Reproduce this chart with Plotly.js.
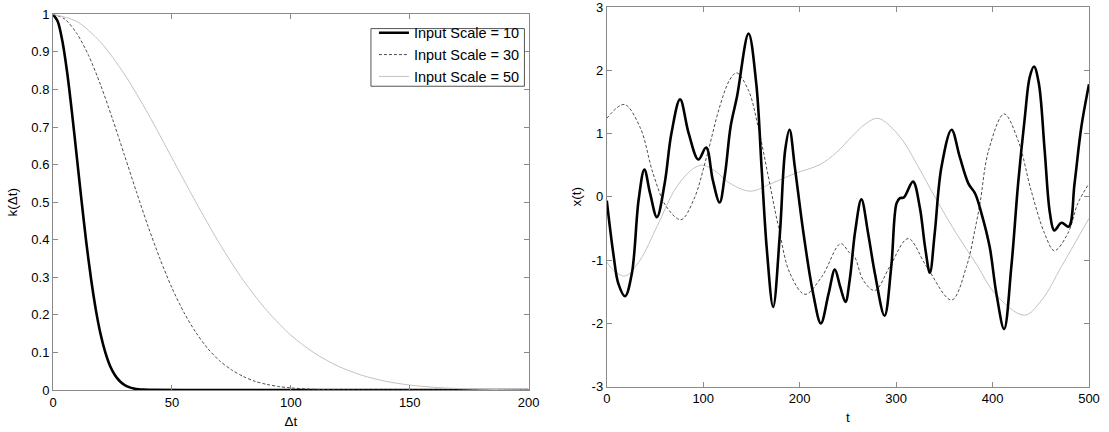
<!DOCTYPE html>
<html><head><meta charset="utf-8">
<script src="https://cdn.plot.ly/plotly-3.0.1.min.js"></script>
<style>html,body{margin:0;padding:0;background:#fff}#chart{width:1109px;height:432px}</style>
</head><body><div id="chart"></div>
<script>
// ---- Left panel: kernel k(Δt) for three input scales ----
const legendNames = ['Input Scale = 10', 'Input Scale = 30', 'Input Scale = 50'];

const lagS10 = [0,2,4,6,8,10,12,14,16,18,20,22,24,26,28,30,32,34,36,38,40,60,200];
const kS10   = [1,0.981,0.927,0.843,0.737,0.621,0.504,0.393,0.296,0.214,0.149,0.100,0.064,0.040,0.024,0.0138,0.0076,0.0041,0.0021,0.0010,0.0005,0,0];

const lagS30 = [0,5,10,15,20,25,30,35,40,45,50,55,60,65,70,75,80,85,90,95,100,110,120,140,200];
const kS30   = [1,0.987,0.949,0.890,0.812,0.722,0.626,0.529,0.435,0.349,0.272,0.207,0.154,0.111,0.078,0.054,0.036,0.023,0.0148,0.0091,0.0055,0.0018,0.0006,0,0];

const lagS50 = [0,10,20,30,40,50,60,70,80,90,100,110,120,130,140,150,160,170,180,190,200];
const kS50   = [1,0.981,0.926,0.841,0.735,0.618,0.501,0.390,0.292,0.211,0.146,0.098,0.063,0.039,0.023,0.0132,0.0073,0.0039,0.0020,0.0010,0.0005];

// ---- Right panel: sample paths x(t) ----
const tS10 = [0,7,12,19,26,33,39,45,52,60,67,76,85,95,103,110,117,122.5,128.5,135,147,155,160.5,166,172.5,179.5,185,189.5,195,204,214,222,230,236.5,242,247.5,252,257.5,264,271,278,288,295,300.5,304,308,317.5,324.5,330,335,340,347,357.5,366,375,382,388.5,397,404,412,419.5,426.5,433.5,438.5,443,448,454,459.5,464,471.5,479,485,492,500];
const xS10 = [-0.06,-0.92,-1.37,-1.57,-1.21,-0.05,0.43,0.05,-0.32,0.21,1.0,1.54,1.0,0.59,0.78,0.26,-0.09,0.35,1.12,1.58,2.58,1.79,0.47,-0.84,-1.74,-0.58,0.74,1.06,0.47,-0.58,-1.53,-2.0,-1.53,-1.15,-1.42,-1.66,-1.3,-0.55,-0.04,-0.58,-1.21,-1.88,-1.1,-0.1,-0.02,-0.01,0.24,-0.16,-0.79,-1.2,-0.58,0.47,1.06,0.63,0.21,0.05,-0.26,-0.79,-1.53,-2.09,-1.1,0.21,1.26,1.89,2.06,1.79,0.74,-0.26,-0.53,-0.41,-0.47,0.21,1.1,1.78];

const tS30 = [0,18,34.5,48,62,77,90,103.5,117,127.5,134.5,147,157,167.5,178,190,205.5,223,242.5,252,257,266,278,293.5,312.5,331.5,357.5,373,382,387,396,412,426.5,440,454,464,478,488.5,500];
const xS30 = [1.24,1.46,1.1,0.37,-0.16,-0.36,-0.05,0.63,1.42,1.85,1.96,1.68,1.1,0.32,-0.47,-1.21,-1.54,-1.26,-0.74,-0.89,-0.95,-1.32,-1.48,-1.1,-0.66,-1.1,-1.63,-1.1,-0.5,-0.1,0.74,1.31,0.89,0.1,-0.58,-0.85,-0.58,-0.1,0.21];

const tS50 = [0,7,19,34.5,52,72.5,90,100,114,125,148.5,169,195,221,238,254,268,281.5,304,321,342,362.5,384,402.5,433,451,471.5,500];
const xS50 = [-1.03,-1.16,-1.25,-1.0,-0.47,0.16,0.45,0.5,0.39,0.24,0.09,0.2,0.37,0.51,0.7,0.95,1.15,1.24,0.95,0.53,-0.05,-0.58,-1.08,-1.53,-1.87,-1.63,-1.1,-0.34];

// ---- Tick labels ----
const leftXTicks = [0,50,100,150,200];
const leftXText = ['0','50','100','150','200'];
const leftYTicks = [0,0.1,0.2,0.3,0.4,0.5,0.6,0.7,0.8,0.9,1];
const leftYText = ['0','0.1','0.2','0.3','0.4','0.5','0.6','0.7','0.8','0.9','1'];
const rightXTicks = [0,100,200,300,400,500];
const rightXText = ['0','100','200','300','400','500'];
const rightYTicks = [-3,-2,-1,0,1,2,3];
const rightYText = ['-3','-2','-1','0','1','2','3'];

const styles = [
  {color:'#000000', width:2.6, dash:'solid'},
  {color:'#3a3a3a', width:0.9, dash:'3px,2px'},
  {color:'#c2c2c2', width:1, dash:'solid'}
];

const traces = [
  {x:lagS10, y:kS10, name:legendNames[0], xaxis:'x', yaxis:'y', line:Object.assign({shape:'spline', smoothing:0.8}, styles[0])},
  {x:lagS30, y:kS30, name:legendNames[1], xaxis:'x', yaxis:'y', line:Object.assign({shape:'spline', smoothing:0.8}, styles[1])},
  {x:lagS50, y:kS50, name:legendNames[2], xaxis:'x', yaxis:'y', line:Object.assign({shape:'spline', smoothing:0.8}, styles[2])},
  {x:tS50, y:xS50, name:legendNames[2], showlegend:false, xaxis:'x2', yaxis:'y2', line:Object.assign({shape:'spline', smoothing:1}, styles[2])},
  {x:tS30, y:xS30, name:legendNames[1], showlegend:false, xaxis:'x2', yaxis:'y2', line:Object.assign({shape:'spline', smoothing:1}, styles[1])},
  {x:tS10, y:xS10, name:legendNames[0], showlegend:false, xaxis:'x2', yaxis:'y2', line:Object.assign({shape:'spline', smoothing:1}, styles[0])}
].map(t => Object.assign({type:'scatter', mode:'lines', hoverinfo:'skip'}, t));

const fam = '"Liberation Sans", Arial, Helvetica, sans-serif';
const font = {family:fam, size:13, color:'#000'};
const titleFont = {family:fam, size:13.5, color:'#000'};
const legendFont = {family:fam, size:14.5, color:'#000'};
const axisBase = {
  showline:true, mirror:'ticks', linecolor:'#8a8a8a', linewidth:1,
  ticks:'inside', ticklen:5, tickcolor:'#8a8a8a', tickwidth:1,
  showgrid:false, zeroline:false, tickmode:'array', automargin:false,
  tickfont:font, ticklabeloverflow:'allow'
};

const layout = {
  width:1109, height:432,
  margin:{l:52.5, r:19.7, t:6.7, b:42},
  paper_bgcolor:'#fff', plot_bgcolor:'#fff',
  font:font,
  showlegend:true,
  legend:{x:0.3098, xanchor:'left', y:0.97443, yanchor:'top',
          bgcolor:'rgba(0,0,0,0)', borderwidth:0,
          font:legendFont, tracegroupgap:0},
  shapes:[{type:'rect', xref:'paper', yref:'paper', x0:0.30690, x1:0.45505, y0:0.79311, y1:0.94365,
           line:{color:'#555', width:1}, fillcolor:'#fff', layer:'above'}],
  xaxis: Object.assign({}, axisBase, {domain:[0,0.45910], range:[0,200], tickvals:leftXTicks, ticktext:leftXText,
          anchor:'y', title:{text:'Δt', font:titleFont, standoff:7}}),
  yaxis: Object.assign({}, axisBase, {domain:[0,0.98096], range:[0,1], tickvals:leftYTicks, ticktext:leftYText,
          anchor:'x', title:{text:'k(Δt)', font:titleFont, standoff:10}}),
  xaxis2: Object.assign({}, axisBase, {domain:[0.53453,1], range:[0,500], tickvals:rightXTicks, ticktext:rightXText,
          anchor:'y2', title:{text:'t', font:titleFont, standoff:7}}),
  yaxis2: Object.assign({}, axisBase, {domain:[0.00861,1], range:[-3,3], tickvals:rightYTicks, ticktext:rightYText,
          anchor:'x2', title:{text:'x(t)', font:titleFont, standoff:6}})
};

Plotly.newPlot('chart', traces, layout, {staticPlot:true, displayModeBar:false});
</script>
</body></html>
